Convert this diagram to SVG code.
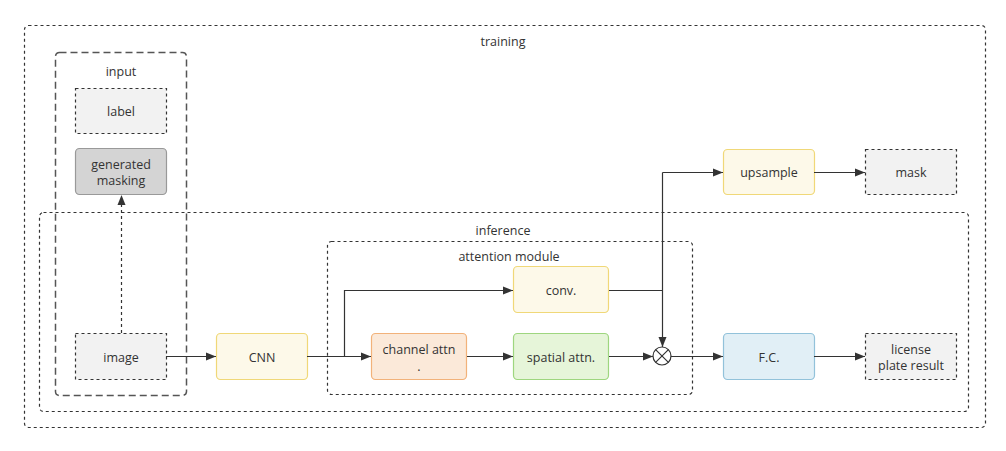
<svg xmlns="http://www.w3.org/2000/svg" width="1006" height="451" viewBox="0 0 1006 451">
<style>
text{font-family:"Open Sans","Liberation Sans",Arial,sans-serif;font-size:12.5px;fill:#333;text-anchor:middle;dominant-baseline:central}
.grp{fill:none;stroke:#333;stroke-width:1.2;stroke-dasharray:3 3}
.dot{fill:#f2f2f2;stroke:#333;stroke-width:1.2;stroke-dasharray:3 3}
.yel{fill:#fdf9e9;stroke:#f0d878;stroke-width:1.2}
.ln{fill:none;stroke:#333;stroke-width:1.2}
</style>
<defs>
<marker id="ah" viewBox="0 0 10 10" refX="10" refY="5" markerWidth="10" markerHeight="10" markerUnits="userSpaceOnUse" orient="auto">
<path d="M0,1 L10,5 L0,9 z" fill="#333"/>
</marker>
</defs>
<rect fill="#fff" width="1006" height="451"/>
<g id="training">
<rect class="grp" x="24.5" y="25.5" width="961" height="402" rx="4"/>
<text x="503" y="41">training</text>
</g>
<g id="inference">
<rect class="grp" x="39.5" y="212.5" width="929" height="199" rx="4"/>
<text x="503" y="230">inference</text>
</g>
<g id="input">
<rect fill="none" stroke="#555" stroke-width="1.5" stroke-dasharray="7 4" x="55.5" y="52.5" width="131" height="343" rx="4"/>
<text x="121" y="71">input</text>
</g>
<g id="attention_module">
<rect class="grp" x="327.5" y="241.5" width="365" height="153" rx="4"/>
<text x="509" y="256">attention module</text>
</g>
<g id="label">
<rect class="dot" x="75.5" y="88.5" width="91" height="45"/>
<text x="121" y="111">label</text>
</g>
<g id="generated_masking">
<rect fill="#d4d4d4" stroke="#999" stroke-width="1.2" x="75.5" y="148.5" width="91" height="46" rx="4"/>
<text x="121" y="164">generated</text>
<text x="121" y="180">masking</text>
</g>
<g id="image">
<rect class="dot" x="75.5" y="333.5" width="91" height="46"/>
<text x="121" y="357">image</text>
</g>
<g id="cnn">
<rect class="yel" x="216.5" y="333.5" width="91" height="46" rx="4"/>
<text x="262" y="357">CNN</text>
</g>
<g id="conv">
<rect class="yel" x="513.5" y="266.5" width="95" height="46" rx="4"/>
<text x="561" y="290">conv.</text>
</g>
<g id="channel_attn">
<rect fill="#fbe9d9" stroke="#f2b27a" stroke-width="1.2" x="371.5" y="333.5" width="95" height="46" rx="4"/>
<text x="419" y="349">channel attn</text>
<text x="419" y="366">.</text>
</g>
<g id="spatial_attn">
<rect fill="#e6f5d9" stroke="#9ed67f" stroke-width="1.2" x="513.5" y="333.5" width="95" height="46" rx="4"/>
<text x="561" y="357">spatial attn.</text>
</g>
<g id="multiply">
<circle cx="662" cy="356" r="9" fill="#fff" stroke="#333" stroke-width="1.2"/>
<path d="M655.6,349.6 L668.4,362.4 M668.4,349.6 L655.6,362.4" stroke="#333" stroke-width="1.2"/>
</g>
<g id="fc">
<rect fill="#e1eff6" stroke="#92c2da" stroke-width="1.2" x="723.5" y="333.5" width="91" height="46" rx="4"/>
<text x="769" y="357">F.C.</text>
</g>
<g id="license_plate_result">
<rect class="dot" x="865.5" y="333.5" width="91" height="46"/>
<text x="911" y="349">license</text>
<text x="911" y="365">plate result</text>
</g>
<g id="upsample">
<rect class="yel" x="723.5" y="149.5" width="91" height="45" rx="4"/>
<text x="769" y="172">upsample</text>
</g>
<g id="mask">
<rect class="dot" x="865.5" y="149.5" width="91" height="45"/>
<text x="911" y="172">mask</text>
</g>
<g id="connectors">
<path class="ln" d="M166,356.5 H216" marker-end="url(#ah)"/>
<path class="ln" d="M307,356.5 H371" marker-end="url(#ah)"/>
<path class="ln" d="M344.5,356.5 V290.5 H513" marker-end="url(#ah)"/>
<path class="ln" d="M467,356.5 H513" marker-end="url(#ah)"/>
<path class="ln" d="M609,356.5 H653" marker-end="url(#ah)"/>
<path class="ln" d="M609,290.5 H662.5"/>
<path class="ln" d="M662.5,172.5 V347" marker-end="url(#ah)"/>
<path class="ln" d="M662.5,172.5 H723" marker-end="url(#ah)"/>
<path class="ln" d="M814,172.5 H865" marker-end="url(#ah)"/>
<path class="ln" d="M671,356.5 H723" marker-end="url(#ah)"/>
<path class="ln" d="M814,356.5 H865" marker-end="url(#ah)"/>
<path class="ln" stroke-dasharray="3 3" d="M121.5,333 V195" marker-end="url(#ah)"/>
</g>
</svg>
